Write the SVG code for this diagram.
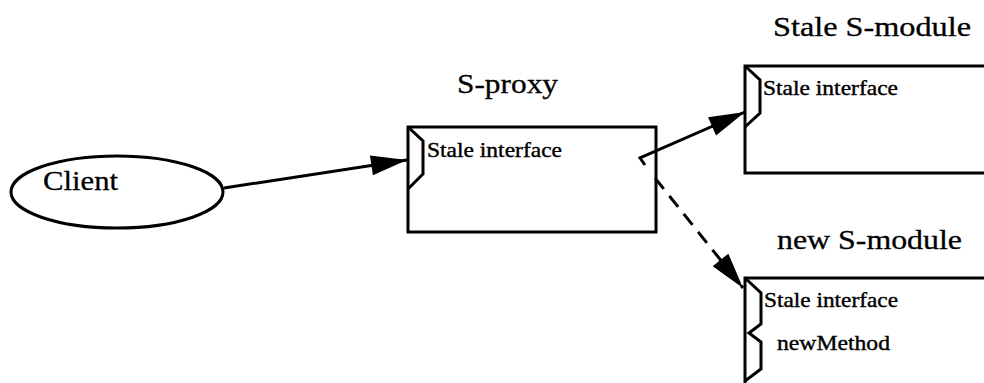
<svg xmlns="http://www.w3.org/2000/svg" width="984" height="383" viewBox="0 0 984 383">
<style>
.box{fill:none;stroke:#000;stroke-width:3}
.tab{fill:none;stroke:#000;stroke-width:3;stroke-linejoin:miter}
.conn{fill:none;stroke:#000;stroke-width:3}
.dash{stroke-dasharray:14 9}
.lbl{font-family:"Liberation Serif","Times New Roman",serif;font-size:27px;fill:#000;stroke:#000;stroke-width:0.3}
.small{font-family:"Liberation Serif","Times New Roman",serif;font-size:21px;fill:#000;stroke:#000;stroke-width:0.4}
</style>
<defs>
<marker id="ah" markerUnits="userSpaceOnUse" markerWidth="42" markerHeight="26" viewBox="-39 -13 42 26" refX="0" refY="0" orient="auto">
<path d="M0,0 L-36,-10 L-36,10 z" fill="#000"/>
</marker>
</defs>
<rect width="984" height="383" fill="#fff"/>
<g id="client">
<ellipse cx="117" cy="192" rx="106" ry="36" class="box"/>
<text x="43" y="190" class="lbl" textLength="75" lengthAdjust="spacingAndGlyphs">Client</text>
</g>
<g id="s-proxy">
<text x="457" y="93" class="lbl" textLength="101" lengthAdjust="spacingAndGlyphs">S-proxy</text>
<rect x="408" y="127" width="248" height="105" class="box"/>
<path d="M408,127 L423,141 L423,174 L408,189" class="tab"/>
<text x="427" y="157" class="small" textLength="135" lengthAdjust="spacingAndGlyphs">Stale interface</text>
</g>
<g id="stale-s-module">
<text x="773" y="36" class="lbl" textLength="198" lengthAdjust="spacingAndGlyphs">Stale S-module</text>
<rect x="745" y="66" width="260" height="107" class="box"/>
<path d="M745,66 L760,80 L760,113 L745,127" class="tab"/>
<text x="763" y="95" class="small" textLength="135" lengthAdjust="spacingAndGlyphs">Stale interface</text>
</g>
<g id="new-s-module">
<text x="777" y="249" class="lbl" textLength="185" lengthAdjust="spacingAndGlyphs">new S-module</text>
<path d="M990,278 L745,278 L745,390" class="box"/>
<path d="M745,278 L761,293 L761,324 L749,333 L761,342 L761,369 L745,381" class="tab"/>
<text x="764" y="307" class="small" textLength="134" lengthAdjust="spacingAndGlyphs">Stale interface</text>
<text x="777" y="350" class="small" textLength="113" lengthAdjust="spacingAndGlyphs">newMethod</text>
</g>
<g id="connectors">
<path d="M224,188 L407,160" class="conn" marker-end="url(#ah)"/>
<path d="M645,165 L640,158 L745,112" class="conn" marker-end="url(#ah)"/>
<path d="M655,178 L743,288" class="conn dash" marker-end="url(#ah)"/>
</g>
</svg>
